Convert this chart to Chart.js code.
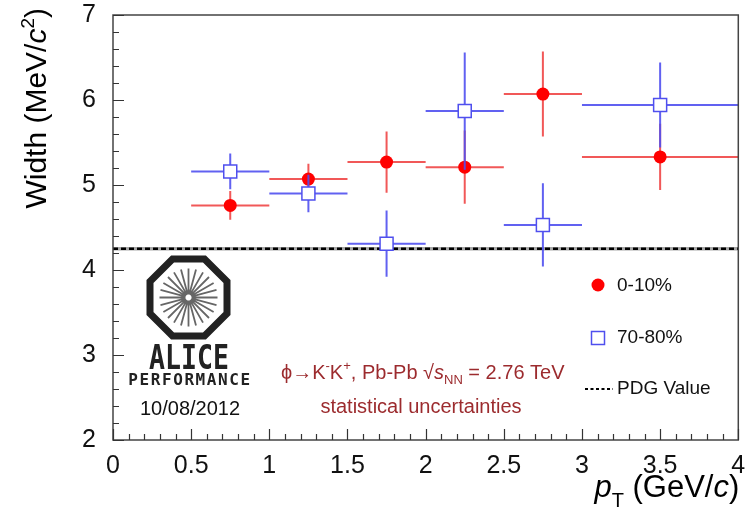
<!DOCTYPE html>
<html>
<head>
<meta charset="utf-8">
<script src="https://cdn.jsdelivr.net/npm/chart.js@4"></script>
<style>
  body { margin: 0; background: #fff; }
  canvas { display: block; }
</style>
</head>
<body>
<canvas id="widthChart" width="749" height="509"></canvas>
<script>
// bin centres and half widths (pT, GeV/c)
const ptCentral = [0.75, 1.25, 1.75, 2.25, 2.75, 3.5];
const ptHalfWidth = [0.25, 0.25, 0.25, 0.25, 0.25, 0.5];

// 0-10% centrality: width and statistical error (MeV/c^2)
const width0010 = [4.76, 5.07, 5.27, 5.21, 6.07, 5.33];
const err0010 = [0.17, 0.18, 0.36, 0.43, 0.50, 0.39];

// 70-80% centrality
const width7080 = [5.16, 4.90, 4.31, 5.87, 4.53, 5.94];
const err7080 = [0.21, 0.22, 0.39, 0.69, 0.49, 0.50];

const pdgValue = 4.25;

const xTickValues = [0, 0.5, 1, 1.5, 2, 2.5, 3, 3.5, 4];
const yTickValues = [2, 3, 4, 5, 6, 7];

const RED = '#ff0000';
const RED_BAR = 'rgba(240, 70, 70, 0.9)';
const BLUE = '#4f4fee';
const BLUE_BAR = 'rgba(80, 80, 240, 0.9)';
const TEXT_RED = '#9c2b2e';
const FONT = '"Liberation Sans", Arial, sans-serif';

function toPoints(ys) {
    return ptCentral.map((x, i) => ({ x: x, y: ys[i] }));
}

// error bars for one dataset, drawn under its markers
function drawErrors(chart, ys, errs, color) {
    const ctx = chart.ctx;
    const xs = chart.scales.x;
    const yscale = chart.scales.y;
    ctx.save();
    ctx.strokeStyle = color;
    ctx.lineWidth = 2;
    ptCentral.forEach((x, i) => {
        const px = xs.getPixelForValue(x);
        const py = yscale.getPixelForValue(ys[i]);
        ctx.beginPath();
        ctx.moveTo(xs.getPixelForValue(x - ptHalfWidth[i]), py);
        ctx.lineTo(xs.getPixelForValue(x + ptHalfWidth[i]), py);
        ctx.moveTo(px, yscale.getPixelForValue(ys[i] + errs[i]));
        ctx.lineTo(px, yscale.getPixelForValue(ys[i] - errs[i]));
        ctx.stroke();
    });
    ctx.restore();
}

const errorBarPlugin = {
    id: 'errorBars',
    beforeDatasetDraw(chart, args) {
        if (args.index === 1) drawErrors(chart, width0010, err0010, RED_BAR);
        if (args.index === 0) drawErrors(chart, width7080, err7080, BLUE_BAR);
    }
};

// ROOT-like frame, inner ticks, titles, legend and the ALICE stamp
const decorPlugin = {
    id: 'decor',
    afterDraw(chart) {
        const ctx = chart.ctx;
        const a = chart.chartArea;
        const xs = chart.scales.x;
        const ys = chart.scales.y;
        ctx.save();

        // frame
        ctx.strokeStyle = '#444';
        ctx.lineWidth = 1.5;
        ctx.strokeRect(a.left, a.top, a.right - a.left, a.bottom - a.top);

        // ticks inside the frame
        ctx.strokeStyle = '#333';
        ctx.lineWidth = 1.2;
        ctx.beginPath();
        for (let k = 0; k <= 40; k++) {
            const px = Math.round(xs.getPixelForValue(k / 10)) + 0.5;
            const len = (k % 5 === 0) ? 11 : 6;
            ctx.moveTo(px, a.bottom);
            ctx.lineTo(px, a.bottom - len);
        }
        for (let k = 0; k <= 25; k++) {
            const py = Math.round(ys.getPixelForValue(2 + k / 5)) + 0.5;
            const len = (k % 5 === 0) ? 11 : 6;
            ctx.moveTo(a.left, py);
            ctx.lineTo(a.left + len, py);
        }
        ctx.stroke();

        // y title, ends near the top of the axis
        ctx.fillStyle = '#000';
        ctx.save();
        ctx.translate(46, 0);
        ctx.rotate(-Math.PI / 2);
        ctx.textBaseline = 'alphabetic';
        const yParts = [
            ['Width (MeV/', '30px ' + FONT, 0],
            ['c', 'italic 30px ' + FONT, 0],
            ['2', '19px ' + FONT, -12],
            [')', '30px ' + FONT, 0]
        ];
        let total = 0;
        yParts.forEach(p => { ctx.font = p[1]; total += ctx.measureText(p[0]).width; });
        let tx = -8 - total;
        yParts.forEach(p => {
            ctx.font = p[1];
            ctx.fillText(p[0], tx, p[2]);
            tx += ctx.measureText(p[0]).width;
        });
        ctx.restore();

        // x title, right aligned to the frame
        ctx.textBaseline = 'alphabetic';
        const xParts = [
            ['p', 'italic 31px ' + FONT, 0],
            ['T', '20px ' + FONT, 10],
            [' (GeV/', '31px ' + FONT, 0],
            ['c', 'italic 31px ' + FONT, 0],
            [')', '31px ' + FONT, 0]
        ];
        let xw = 0;
        xParts.forEach(p => { ctx.font = p[1]; xw += ctx.measureText(p[0]).width; });
        let xx = a.right + 1 - xw;
        xParts.forEach(p => {
            ctx.font = p[1];
            ctx.fillText(p[0], xx, 497 + p[2]);
            xx += ctx.measureText(p[0]).width;
        });

        // legend
        ctx.font = '19px ' + FONT;
        ctx.textBaseline = 'middle';
        ctx.fillStyle = RED;
        ctx.beginPath();
        ctx.arc(598, 285, 6.5, 0, Math.PI * 2);
        ctx.fill();
        ctx.fillStyle = '#111';
        ctx.fillText('0-10%', 617, 286);
        ctx.strokeStyle = BLUE;
        ctx.lineWidth = 1.5;
        ctx.fillStyle = '#fff';
        ctx.fillRect(591.5, 331.5, 13, 13);
        ctx.strokeRect(591.5, 331.5, 13, 13);
        ctx.fillStyle = '#111';
        ctx.fillText('70-80%', 617, 338);
        ctx.strokeStyle = '#000';
        ctx.lineWidth = 2;
        ctx.setLineDash([3, 2.5]);
        ctx.beginPath();
        ctx.moveTo(585, 389);
        ctx.lineTo(613, 389);
        ctx.stroke();
        ctx.setLineDash([]);
        ctx.fillText('PDG Value', 617, 389);

        // reaction label
        ctx.fillStyle = TEXT_RED;
        ctx.textBaseline = 'alphabetic';
        let rx = 281;
        const ry = 379;
        const put = (s, font, dy) => {
            ctx.font = font;
            ctx.fillText(s, rx, ry + (dy || 0));
            rx += ctx.measureText(s).width;
        };
        put('\u03D5\u2192K', '20px ' + FONT);
        put('-', '13px ' + FONT, -9);
        put('K', '20px ' + FONT);
        put('+', '13px ' + FONT, -9);
        put(', Pb-Pb ', '20px ' + FONT);
        put('\u221A', '20px ' + FONT);
        put('s', 'italic 20px ' + FONT);
        put('NN', '13px ' + FONT, 5);
        put(' = 2.76 TeV', '20px ' + FONT);
        ctx.textAlign = 'center';
        ctx.font = '20px ' + FONT;
        ctx.fillText('statistical uncertainties', 421, 413);

        // ALICE logo
        const cx = 188.5, cy = 297.5, r = 38.5 / Math.cos(Math.PI / 8);
        ctx.strokeStyle = '#222';
        ctx.lineWidth = 7;
        ctx.lineJoin = 'miter';
        ctx.beginPath();
        for (let k = 0; k < 8; k++) {
            const ang = Math.PI / 8 + k * Math.PI / 4;
            const px = cx + r * Math.cos(ang);
            const py = cy + r * Math.sin(ang);
            if (k === 0) ctx.moveTo(px, py); else ctx.lineTo(px, py);
        }
        ctx.closePath();
        ctx.stroke();
        ctx.strokeStyle = '#666';
        ctx.lineWidth = 1.8;
        ctx.beginPath();
        for (let k = 0; k < 24; k++) {
            const ang = k * Math.PI / 12;
            ctx.moveTo(cx + 3 * Math.cos(ang), cy + 3 * Math.sin(ang));
            ctx.lineTo(cx + 29 * Math.cos(ang), cy + 29 * Math.sin(ang));
        }
        ctx.stroke();

        ctx.fillStyle = '#222';
        ctx.textBaseline = 'middle';
        ctx.save();
        ctx.translate(189, 360);
        ctx.scale(0.78, 1);
        ctx.font = 'bold 34px "DejaVu Sans Mono", monospace';
        ctx.fillText('ALICE', 0, 0);
        ctx.restore();
        ctx.font = 'bold 16px "DejaVu Sans Mono", monospace';
        ctx.letterSpacing = '1.6px';
        ctx.fillText('PERFORMANCE', 190, 381);
        ctx.letterSpacing = '0px';
        ctx.fillStyle = '#111';
        ctx.font = '20px ' + FONT;
        ctx.fillText('10/08/2012', 190, 409);

        ctx.restore();
    }
};

// drop the label overhang padding so the frame sits where the layout says
function noScalePadding(axis) {
    axis.paddingTop = 0;
    axis.paddingBottom = 0;
    axis.paddingLeft = 0;
    axis.paddingRight = 0;
}

const ctx = document.getElementById('widthChart').getContext('2d');
const widthChart = new Chart(ctx, {
    type: 'scatter',
    data: {
        datasets: [
            {
                label: '70-80%',
                data: toPoints(width7080),
                pointStyle: 'rect',
                pointRadius: 9.2,
                borderWidth: 1.5,
                borderColor: BLUE,
                backgroundColor: '#fff'
            },
            {
                label: '0-10%',
                data: toPoints(width0010),
                pointStyle: 'circle',
                pointRadius: 6.5,
                borderWidth: 0,
                borderColor: RED,
                backgroundColor: RED
            },
            {
                label: 'PDG Value',
                data: [{ x: 0, y: pdgValue }, { x: 4, y: pdgValue }],
                showLine: true,
                pointRadius: 0,
                borderColor: '#000',
                borderWidth: 2.5,
                borderDash: [5, 3]
            },
            {
                label: 'PDG band',
                data: [{ x: 0, y: pdgValue }, { x: 4, y: pdgValue }],
                showLine: true,
                pointRadius: 0,
                borderColor: 'rgba(0, 0, 0, 0.35)',
                borderWidth: 3.5
            }
        ]
    },
    options: {
        responsive: false,
        animation: false,
        layout: { padding: { top: 15, right: 8, left: 0, bottom: 0 } },
        plugins: {
            legend: { display: false },
            tooltip: { enabled: false }
        },
        scales: {
            x: {
                type: 'linear',
                min: 0,
                max: 4,
                grid: { display: false },
                border: { display: false },
                afterBuildTicks: axis => { axis.ticks = xTickValues.map(v => ({ value: v })); },
                afterFit: axis => { axis.height = 69; noScalePadding(axis); },
                ticks: {
                    autoSkip: false,
                    maxRotation: 0,
                    padding: 3,
                    color: '#111',
                    font: { family: FONT, size: 25 },
                    callback: v => String(v)
                }
            },
            y: {
                type: 'linear',
                min: 2,
                max: 7,
                grid: { display: false },
                border: { display: false },
                afterBuildTicks: axis => { axis.ticks = yTickValues.map(v => ({ value: v })); },
                afterFit: axis => { axis.width = 113; noScalePadding(axis); },
                ticks: {
                    padding: 9,
                    color: '#111',
                    font: { family: FONT, size: 25 },
                    callback: v => String(v)
                }
            }
        }
    },
    plugins: [errorBarPlugin, decorPlugin]
});
</script>
</body>
</html>
